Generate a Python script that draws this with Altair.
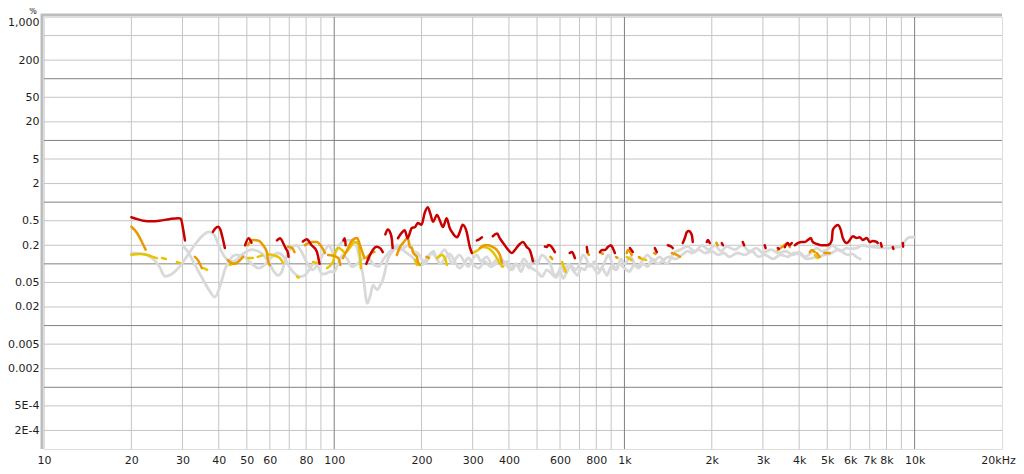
import altair as alt
import pandas as pd

# ---------------- data ----------------
# H2 (red) – visible segments, (frequency Hz, distortion %)
red_segments = [
    [(20, 0.57), (21, 0.53), (22, 0.50), (23.5, 0.49), (25, 0.50), (27, 0.53), (29, 0.55), (29.6, 0.54), (30.2, 0.35), (30.6, 0.24)],
    [(38.2, 0.33), (39, 0.38), (39.8, 0.40), (40.5, 0.36), (41.2, 0.27), (42, 0.18)],
    [(49.3, 0.20), (50.7, 0.26), (51.9, 0.22)],
    [(63.5, 0.24), (65.2, 0.26), (66.6, 0.22), (68, 0.18), (69.3, 0.15), (69.6, 0.13)],
    [(78, 0.23), (80.4, 0.25), (83.6, 0.20), (87, 0.16), (89, 0.10)],
    [(107.5, 0.24), (108.7, 0.26), (109.5, 0.20)],
    [(129, 0.10), (131, 0.12), (136, 0.17), (140, 0.19), (144, 0.18), (147, 0.155)],
    [(150, 0.30), (153, 0.36), (156, 0.32), (158, 0.25), (159, 0.18)],
    [(165.8, 0.26), (171, 0.32), (175, 0.35), (179, 0.26), (185, 0.38), (190, 0.395), (194, 0.46), (200, 0.43),
     (205, 0.67), (210, 0.83), (214, 0.67), (219, 0.48), (226, 0.62), (231, 0.51), (237, 0.395), (244, 0.55),
     (250, 0.38), (256, 0.315), (265, 0.27), (271, 0.33), (277, 0.43), (286, 0.33), (289, 0.26), (293, 0.19), (298, 0.15)],
    [(310, 0.24), (316, 0.25), (323, 0.27)],
    [(352, 0.28), (364, 0.31), (372, 0.26), (387, 0.20), (397, 0.17), (409, 0.15), (419, 0.167), (436, 0.21),
     (447, 0.226), (461, 0.187), (472, 0.167), (484, 0.11)],
    [(532, 0.19), (540, 0.187), (545, 0.20), (553, 0.20), (562, 0.187), (576, 0.155)],
    [(648, 0.15), (659, 0.155), (664, 0.15), (675, 0.124)],
    [(742, 0.187), (746, 0.155)],
    [(823, 0.155), (836, 0.167), (856, 0.167), (877, 0.187), (898, 0.20), (912, 0.18), (927, 0.15)],
    [(1044, 0.18), (1069, 0.155)],
    [(1273, 0.18), (1293, 0.155)],
    [(1411, 0.20), (1457, 0.187), (1468, 0.18)],
    [(1589, 0.217), (1615, 0.262), (1641, 0.327), (1667, 0.34), (1707, 0.293), (1720, 0.226)],
    [(1922, 0.226), (1938, 0.243), (1969, 0.217)],
    [(2165, 0.217), (2185, 0.20)],
    [(2557, 0.226), (2585, 0.20)],
    [(3045, 0.20), (3065, 0.18)],
    [(3377, 0.18), (3405, 0.175)],
    [(3569, 0.187), (3655, 0.217), (3700, 0.20), (3773, 0.217)],
    [(3864, 0.20), (3957, 0.217), (4085, 0.226), (4183, 0.226), (4284, 0.243), (4387, 0.262), (4457, 0.226),
     (4601, 0.21), (4786, 0.20), (4980, 0.20), (5101, 0.21), (5183, 0.243), (5224, 0.353), (5350, 0.41),
     (5435, 0.426), (5566, 0.353), (5655, 0.262), (5837, 0.217), (5977, 0.243), (6121, 0.28), (6318, 0.262),
     (6470, 0.27), (6626, 0.243), (6840, 0.262), (7004, 0.226), (7172, 0.234), (7404, 0.226), (7463, 0.217)],
    [(7643, 0.217), (7703, 0.19)],
    [(8407, 0.187), (8450, 0.175)],
    [(9101, 0.217), (9125, 0.19)],
]

# H3 (orange)
orange_segments = [
    [(20, 0.40), (20.9, 0.32), (21.8, 0.22), (22.4, 0.17)],
    [(33.1, 0.13), (33.9, 0.115), (35, 0.085)],
    [(43, 0.115), (44.3, 0.103), (45.4, 0.10), (46.6, 0.107), (48.5, 0.13)],
    [(50.4, 0.20), (52.4, 0.243), (54.6, 0.24), (56.9, 0.20), (58.7, 0.15), (59.1, 0.115), (60, 0.095)],
    [(69.3, 0.19), (71.6, 0.18), (73, 0.155)],
    [(79.2, 0.20), (83.7, 0.226), (87, 0.226), (90.6, 0.187), (92.9, 0.15)],
    [(95.2, 0.139), (99.2, 0.135), (103.3, 0.124), (105, 0.096)],
    [(107.2, 0.124), (111.6, 0.18), (115.6, 0.243), (119.9, 0.262), (122.7, 0.20), (125.3, 0.15), (127.1, 0.124)],
    [(129.3, 0.124), (134.3, 0.15), (137.5, 0.155)],
    [(164.4, 0.139), (168.5, 0.187), (172.5, 0.217), (179.4, 0.262), (182.2, 0.187), (185.2, 0.18),
     (186.5, 0.155), (192.8, 0.129), (194.3, 0.107), (197.4, 0.096)],
    [(208, 0.13), (212, 0.125)],
    [(317.6, 0.18), (330.3, 0.20), (339.6, 0.20), (352.2, 0.187), (363.6, 0.167), (372.3, 0.139), (378.2, 0.107)],
    [(556, 0.13), (564, 0.12)],
    [(745, 0.15), (755, 0.14)],
    [(832, 0.15), (842, 0.145)],
    [(936, 0.129), (946, 0.125)],
    [(1019, 0.15), (1027, 0.167), (1059, 0.14)],
    [(1122, 0.129), (1134, 0.125)],
    [(1266, 0.15), (1280, 0.145)],
    [(1457, 0.15), (1516, 0.14), (1553, 0.13)],
    [(2075, 0.22), (2095, 0.20)],
    [(3377, 0.167), (3500, 0.19), (3655, 0.217), (3712, 0.187)],
    [(4353, 0.155), (4422, 0.167), (4527, 0.155)],
    [(4601, 0.15), (4709, 0.129)],
    [(4885, 0.15), (5101, 0.15)],
]

# H4 (yellow)
yellow_segments = [
    [(20, 0.14), (21.4, 0.145), (22.6, 0.14), (23.7, 0.13), (24.5, 0.124)],
    [(25.5, 0.124), (26.3, 0.12)],
    [(28.7, 0.107), (29.4, 0.103)],
    [(35.5, 0.085), (36.5, 0.08)],
    [(43.7, 0.096), (45.4, 0.103)],
    [(50.4, 0.124), (52.4, 0.124)],
    [(54.5, 0.13), (56.5, 0.137)],
    [(58.6, 0.143), (61.4, 0.139), (65, 0.124), (66.6, 0.103)],
    [(74.5, 0.062), (75.5, 0.06)],
    [(84.5, 0.107), (87, 0.103)],
    [(94.5, 0.0855), (99, 0.107), (101, 0.16), (103.3, 0.18), (106.4, 0.167), (109, 0.15), (112.9, 0.18),
     (117.5, 0.226), (120.5, 0.217), (122.7, 0.139), (123.5, 0.085)],
    [(189.7, 0.115), (192.8, 0.096)],
    [(225.9, 0.124), (234.9, 0.139), (240.5, 0.124), (244.5, 0.096)],
    [(300.5, 0.15), (312.6, 0.167), (325.2, 0.187), (338.7, 0.18), (352, 0.155), (363.6, 0.124), (372.3, 0.103), (381, 0.09)],
    [(610, 0.107), (620, 0.0855), (628, 0.074)],
    [(1019, 0.129), (1059, 0.115)],
    [(1128, 0.124), (1188, 0.115)],
    [(4527, 0.139), (4637, 0.124)],
]

# higher harmonics / noise (light grey)
grey1_f = [20, 21, 22.5, 24, 25, 26.1, 27.5, 29, 31, 33, 35, 37, 38.5, 40, 41.5, 43, 45, 48, 52, 56, 60, 62, 64, 66,
           68, 71, 74, 77, 80, 84, 88, 92, 96, 100, 104, 110, 115, 118, 122, 126, 130, 133, 136, 139, 141, 144, 147,
           150, 152, 158, 164, 170, 176, 182, 188, 194, 200, 206, 212, 220, 226, 232, 240, 248, 255, 262, 270, 280,
           290, 300, 310, 320, 335, 350, 365, 380, 395, 410, 425, 440, 455, 470, 485, 500, 520, 540, 555, 575, 590,
           605, 620, 640, 660, 680, 700, 720, 740, 760, 790, 820, 850, 880, 910, 940, 970, 1000, 1050, 1100, 1150,
           1200, 1260, 1320, 1400, 1480, 1560, 1650, 1750, 1850, 1950, 2050, 2150, 2250, 2400, 2550, 2700, 2850,
           3000, 3200, 3400, 3600, 3800, 4000, 4200, 4400, 4600, 4800, 5000, 5200, 5400, 5600, 5800, 6000, 6300,
           6600, 7000, 7400, 7800, 8200, 8600, 9000, 9300, 9600, 10000]
grey1_v = [0.15, 0.148, 0.14, 0.115, 0.09, 0.063, 0.068, 0.085, 0.13, 0.2, 0.28, 0.33, 0.3, 0.2, 0.14, 0.115, 0.11,
           0.14, 0.17, 0.15, 0.1, 0.075, 0.065, 0.075, 0.12, 0.18, 0.2, 0.16, 0.11, 0.08, 0.1, 0.15, 0.2, 0.14, 0.2,
           0.24, 0.24, 0.22, 0.13, 0.06, 0.023, 0.03, 0.045, 0.04, 0.038, 0.045, 0.055, 0.08, 0.107, 0.155, 0.18,
           0.17, 0.19, 0.21, 0.16, 0.15, 0.12, 0.1, 0.13, 0.16, 0.12, 0.14, 0.17, 0.13, 0.1, 0.12, 0.14, 0.11, 0.09,
           0.12, 0.14, 0.11, 0.13, 0.1, 0.12, 0.09, 0.11, 0.08, 0.1, 0.075, 0.1, 0.085, 0.12, 0.1, 0.14, 0.12, 0.1,
           0.065, 0.07, 0.09, 0.075, 0.1, 0.09, 0.08, 0.1, 0.14, 0.12, 0.09, 0.11, 0.08, 0.1, 0.14, 0.1, 0.08, 0.12,
           0.1, 0.13, 0.09, 0.11, 0.14, 0.11, 0.13, 0.1, 0.15, 0.17, 0.19, 0.16, 0.2, 0.17, 0.2, 0.16, 0.19, 0.17,
           0.2, 0.16, 0.18, 0.15, 0.17, 0.15, 0.16, 0.14, 0.155, 0.13, 0.15, 0.18, 0.16, 0.17, 0.2, 0.175, 0.16,
           0.18, 0.175, 0.18, 0.2, 0.19, 0.185, 0.18, 0.18, 0.185, 0.19, 0.24, 0.27, 0.27]

grey2_f = [30, 31.5, 33, 35, 37, 38.8, 40.5, 42, 43.5, 46, 49, 52, 55, 58, 61, 64, 67, 70, 73, 76, 79, 82, 85, 88,
           91, 94, 97, 100, 103, 107, 111, 115, 120, 125, 130, 136, 142, 148, 154, 160, 166, 172, 178, 185, 192,
           200, 208, 216, 224, 232, 240, 250, 260, 270, 280, 290, 300, 315, 330, 345, 360, 375, 390, 405, 420, 435,
           450, 465, 480, 500, 520, 540, 560, 580, 600, 615, 630, 650, 670, 690, 710, 730, 750, 780, 810, 840, 870,
           900, 930, 960, 1000, 1040, 1080, 1120, 1160, 1200, 1250, 1300, 1360, 1420, 1500, 1580, 1650, 1720, 1800,
           1900, 2000, 2100, 2200, 2300, 2450, 2600, 2750, 2900, 3050, 3250, 3450, 3650, 3850, 4050, 4250, 4450,
           4650, 4900, 5100, 5300, 5500, 5700, 5900, 6100, 6300, 6500]
grey2_v = [0.2, 0.15, 0.1, 0.06, 0.038, 0.029, 0.045, 0.08, 0.115, 0.14, 0.13, 0.1, 0.085, 0.1, 0.13, 0.15, 0.13,
           0.09, 0.07, 0.062, 0.065, 0.08, 0.1, 0.09, 0.068, 0.07, 0.075, 0.074, 0.1, 0.14, 0.12, 0.09, 0.1, 0.12,
           0.13, 0.1, 0.09, 0.12, 0.15, 0.18, 0.2, 0.17, 0.15, 0.13, 0.11, 0.095, 0.12, 0.15, 0.13, 0.1, 0.12,
           0.145, 0.11, 0.085, 0.1, 0.125, 0.1, 0.085, 0.11, 0.09, 0.1, 0.12, 0.1, 0.08, 0.1, 0.09, 0.12, 0.1,
           0.085, 0.075, 0.062, 0.08, 0.07, 0.06, 0.075, 0.058, 0.07, 0.09, 0.075, 0.065, 0.085, 0.08, 0.1, 0.09,
           0.07, 0.085, 0.065, 0.09, 0.08, 0.1, 0.085, 0.075, 0.095, 0.085, 0.1, 0.09, 0.12, 0.1, 0.115, 0.13, 0.12,
           0.14, 0.16, 0.15, 0.17, 0.15, 0.16, 0.14, 0.15, 0.13, 0.15, 0.14, 0.16, 0.13, 0.14, 0.12, 0.14, 0.13,
           0.15, 0.14, 0.12, 0.125, 0.13, 0.14, 0.145, 0.16, 0.17, 0.15, 0.14, 0.145, 0.13, 0.12]

# axis ticks and labels
x_tick_values = [10, 20, 30, 40, 50, 60, 80, 100, 200, 300, 400, 600, 800, 1000, 2000, 3000, 4000, 5000, 6000,
                 7000, 8000, 10000, 20000]
x_tick_labels = ["10", "20", "30", "40", "50", "60", "80", "100", "200", "300", "400", "600", "800", "1k", "2k",
                 "3k", "4k", "5k", "6k", "7k", "8k", "10k", "20kHz"]
x_minor_grid = [20, 30, 40, 50, 60, 70, 80, 90, 200, 300, 400, 500, 600, 700, 800, 900, 2000, 3000, 4000, 5000,
                6000, 7000, 8000, 9000]
x_major_grid = [100, 1000, 10000]

y_tick_values = [1000, 200, 50, 20, 5, 2, 0.5, 0.2, 0.05, 0.02, 0.005, 0.002, 0.0005, 0.0002]
y_tick_labels = ["1,000", "200", "50", "20", "5", "2", "0.5", "0.2", "0.05", "0.02", "0.005", "0.002", "5E-4", "2E-4"]
y_minor_grid = [500, 200, 50, 20, 5, 2, 0.5, 0.2, 0.05, 0.02, 0.005, 0.002, 0.0005, 0.0002]
y_major_grid = [100, 10, 1, 0.1, 0.01, 0.001]
y_unit = "%"

# ---------------- build tables ----------------
rows = []


def add_segments(name, segs):
    for i, seg in enumerate(segs):
        for f, v in seg:
            rows.append({"series": name, "seg": f"{name}_{i}", "f": f, "v": v})


for f, v in zip(grey1_f, grey1_v):
    rows.append({"series": "g1", "seg": "g1", "f": f, "v": v})
for f, v in zip(grey2_f, grey2_v):
    rows.append({"series": "g2", "seg": "g2", "f": f, "v": v})
add_segments("H4", yellow_segments)
add_segments("H3", orange_segments)
add_segments("H2", red_segments)
df = pd.DataFrame(rows)


def label_expr(values, labels):
    expr = "''"
    for v, l in reversed(list(zip(values, labels))):
        expr = f"abs(datum.value - {v!r}) < {v * 1e-6!r} ? '{l}' : ({expr})"
    return expr


FONT = "DejaVu Sans"
W, H = 958, 432

xscale = alt.Scale(type="log", domain=[10, 20000], nice=False)
yscale = alt.Scale(type="log", domain=[0.0001, 1000], nice=False)

x_axis = alt.Axis(values=x_tick_values, labelExpr=label_expr(x_tick_values, x_tick_labels),
                  grid=False, ticks=False, domain=False, title=None, labelFlush=False,
                  labelOverlap=False, labelPadding=5, labelFont=FONT, labelFontSize=11,
                  labelColor="#1e1e1e",
                  labelOffset={"condition": {"test": "datum.value >= 19999", "value": -4}, "value": 0})
y_axis = alt.Axis(values=y_tick_values, labelExpr=label_expr(y_tick_values, y_tick_labels),
                  grid=False, ticks=False, domain=False, title=None, labelOverlap=False,
                  labelPadding=5, labelFont=FONT, labelFontSize=11, labelColor="#1e1e1e",
                  labelOffset={"condition": {"test": "datum.value >= 999", "value": 5}, "value": 0})

X = lambda: alt.X("f:Q", scale=xscale, axis=x_axis)
Y = lambda: alt.Y("v:Q", scale=yscale, axis=y_axis)

grid_x_minor = alt.Chart(pd.DataFrame({"f": x_minor_grid})).mark_rule(color="#c4c4c4", strokeWidth=1).encode(x=X())
grid_x_major = alt.Chart(pd.DataFrame({"f": x_major_grid})).mark_rule(color="#808080", strokeWidth=1).encode(x=X())
grid_y_minor = alt.Chart(pd.DataFrame({"v": y_minor_grid})).mark_rule(color="#c4c4c4", strokeWidth=1).encode(y=Y())
grid_y_major = alt.Chart(pd.DataFrame({"v": y_major_grid})).mark_rule(color="#808080", strokeWidth=1).encode(y=Y())

color_scale = alt.Scale(domain=["g1", "g2", "H4", "H3", "H2"],
                        range=["#d9d9d9", "#d9d9d9", "#e8c400", "#e89a00", "#c80000"])

grey_lines = alt.Chart(df[df.series.isin(["g1", "g2"])]).mark_line(
    strokeWidth=2.8, interpolate="monotone", strokeCap="round", strokeJoin="round").encode(
    x=X(), y=Y(), detail="seg:N",
    color=alt.Color("series:N", scale=color_scale, legend=None), order="f:Q")

harm_lines = alt.Chart(df[~df.series.isin(["g1", "g2"])]).mark_line(
    strokeWidth=2.5, interpolate="monotone", strokeCap="round", strokeJoin="round").encode(
    x=X(), y=Y(), detail="seg:N",
    color=alt.Color("series:N", scale=color_scale, legend=None), order="f:Q")

one = pd.DataFrame({"t": [y_unit]})
frame_left = alt.Chart(one).mark_rule(color="#bdbdbd", strokeWidth=3).encode(
    x=alt.value(-2), y=alt.value(-3), y2=alt.value(H))
frame_top = alt.Chart(one).mark_rule(color="#bdbdbd", strokeWidth=3).encode(
    x=alt.value(-3), x2=alt.value(W), y=alt.value(-2))
pct = alt.Chart(one).mark_text(font=FONT, fontSize=8, color="#1e1e1e", align="center", baseline="top").encode(
    text="t:N", x=alt.value(-11), y=alt.value(-9))

chart = alt.layer(
    grid_x_minor, grid_y_minor, grid_x_major, grid_y_major, grey_lines, harm_lines, frame_left, frame_top, pct
).properties(
    width=W, height=H,
    autosize=alt.AutoSizeParams(type="none"),
    padding={"left": 36, "top": 9, "right": 14, "bottom": 16},
).configure_view(stroke="#7a7a7a", strokeWidth=1).configure(background="white")

chart.save("out.html", embed_options={"renderer": "svg", "actions": False})
